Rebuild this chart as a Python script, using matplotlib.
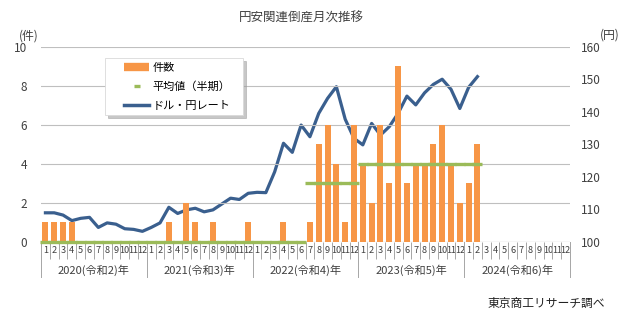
import matplotlib
matplotlib.use("Agg")
import matplotlib.pyplot as plt
import matplotlib.transforms as mtransforms
from matplotlib.lines import Line2D
from matplotlib.legend_handler import HandlerLine2D

plt.rcParams['font.family'] = ['Noto Sans CJK JP', 'DejaVu Sans']

# Monthly series, Jan 2020 - Dec 2024
years = ["2020(令和2)年", "2021(令和3)年", "2022(令和4)年", "2023(令和5)年", "2024(令和6)年"]
months = [str(m) for m in range(1, 13)]

counts = [1, 1, 1, 1, 0, 0, 0, 0, 0, 0, 0, 0,
          0, 0, 1, 0, 2, 1, 0, 1, 0, 0, 0, 1,
          0, 0, 0, 1, 0, 0, 1, 5, 6, 4, 1, 6,
          4, 2, 6, 3, 9, 3, 4, 4, 5, 6, 4, 2,
          3, 5]

half_avg = [0] * 30 + [3] * 6 + [4] * 14

usd_jpy = [108.9, 108.9, 108.2, 106.5, 107.2, 107.5, 104.4, 105.8, 105.4, 104.0, 103.8, 103.2,
           104.4, 105.8, 110.6, 108.7, 109.8, 110.3, 109.2, 109.8, 111.6, 113.4, 113.0, 114.9,
           115.2, 115.1, 121.5, 130.3, 127.5, 135.9, 132.3, 139.5, 144.1, 147.7, 137.7, 131.8,
           129.8, 136.4, 132.8, 135.4, 139.5, 144.8, 142.1, 145.8, 148.4, 150.0, 146.9, 141.0,
           147.5, 150.8]

ORANGE = "#F79646"
GREEN = "#9BBB59"
BLUE = "#3A5F8E"
TXT = "#404040"

fig = plt.figure(figsize=(6.3, 3.28), dpi=100)
ax_w = 0.8397
ax = fig.add_axes([0.0651, 0.263, ax_w, 0.5946])
ax2 = ax.twinx()

n_total = len(years) * 12
ax.bar(range(len(counts)), counts, width=0.68, color=ORANGE, zorder=2)

# half-year average drawn as one wide dash per month
cat_pts = ax_w * 6.3 * 72 / n_total
ax.plot(range(len(half_avg)), half_avg, linestyle="none", marker="_",
        markersize=cat_pts * 1.12, markeredgewidth=2.4, color=GREEN, zorder=3, clip_on=False)

ax2.plot(range(len(usd_jpy)), usd_jpy, color=BLUE, linewidth=2.3, zorder=4)

ax.set_xlim(-0.5, n_total - 0.5)
ax.set_ylim(0, 10)
ax2.set_ylim(100, 160)
ax.set_yticks(range(0, 11, 2))
ax2.set_yticks(range(100, 161, 10))
ax.grid(axis="y", color="#BFBFBF", linewidth=0.8, zorder=0)
ax.set_axisbelow(True)
ax.set_zorder(ax2.get_zorder() + 1)
ax.patch.set_visible(False)

for a in (ax, ax2):
    for s in ("top", "left", "right", "bottom"):
        a.spines[s].set_visible(False)
ax.axhline(0, color="#A6A6A6", linewidth=0.8, zorder=1)

ax.tick_params(axis="y", length=0, labelsize=8.5, pad=10, colors=TXT)
ax2.tick_params(axis="y", length=0, labelsize=8.5, pad=7.5, colors=TXT)

# month labels and separators
ax.set_xticks(range(n_total))
ax.set_xticklabels(months * len(years), fontsize=6.6, color=TXT)
ax.set_xticks([i - 0.5 for i in range(n_total + 1)], minor=True)
ax.tick_params(axis="x", which="major", length=0, pad=3)
ax.tick_params(axis="x", which="minor", length=12, width=0.7, color="#A6A6A6")

trans = mtransforms.blended_transform_factory(ax.transData, ax.transAxes)
for k, yl in enumerate(years):
    x0 = k * 12 - 0.5
    ax.add_line(Line2D([x0, x0], [0, -0.18], transform=trans, color="#A6A6A6",
                       linewidth=0.7, clip_on=False))
    ax.text(k * 12 + 5.5, -0.145, yl, transform=trans, ha="center", va="center",
            fontsize=8, color=TXT)
x_end = n_total - 0.5
ax.add_line(Line2D([x_end, x_end], [0, -0.18], transform=trans, color="#A6A6A6",
                   linewidth=0.7, clip_on=False))

fig.text(0.478, 0.945, "円安関連倒産月次推移", ha="center", va="center", fontsize=9, color=TXT)
fig.text(0.046, 0.89, "(件)", ha="center", va="center", fontsize=8.5, color=TXT)
fig.text(0.968, 0.893, "(円)", ha="center", va="center", fontsize=8.5, color=TXT)
fig.text(0.96, 0.075, "東京商工リサーチ調べ", ha="right", va="center", fontsize=8.5, color="#202020")

handles = [
    Line2D([0], [0], color=ORANGE, linewidth=6, solid_capstyle="butt"),
    Line2D([0], [0], color=GREEN, linestyle="none", marker="_", markersize=5, markeredgewidth=2.4),
    Line2D([0], [0], color=BLUE, linewidth=2.5),
]
shifted = HandlerLine2D(xpad=1.35)
leg_w = 0.261
leg_h = 0.29
leg = ax.legend(handles, ["件数", "平均値（半期）", "ドル・円レート"], loc="upper left",
                bbox_to_anchor=(0.121, 0.942 - leg_h, leg_w, leg_h), mode="expand",
                borderaxespad=0, fontsize=8, frameon=True,
                fancybox=False, shadow={"color": "#9A9A9A", "alpha": 0.55},
                handlelength=3.6, handletextpad=0.25,
                borderpad=0.4, labelspacing=0.8, edgecolor="#D9D9D9",
                handler_map={h: shifted for h in handles})
leg.get_frame().set_linewidth(0.6)
leg.set_zorder(10)

fig.savefig("out.png", dpi=100)
